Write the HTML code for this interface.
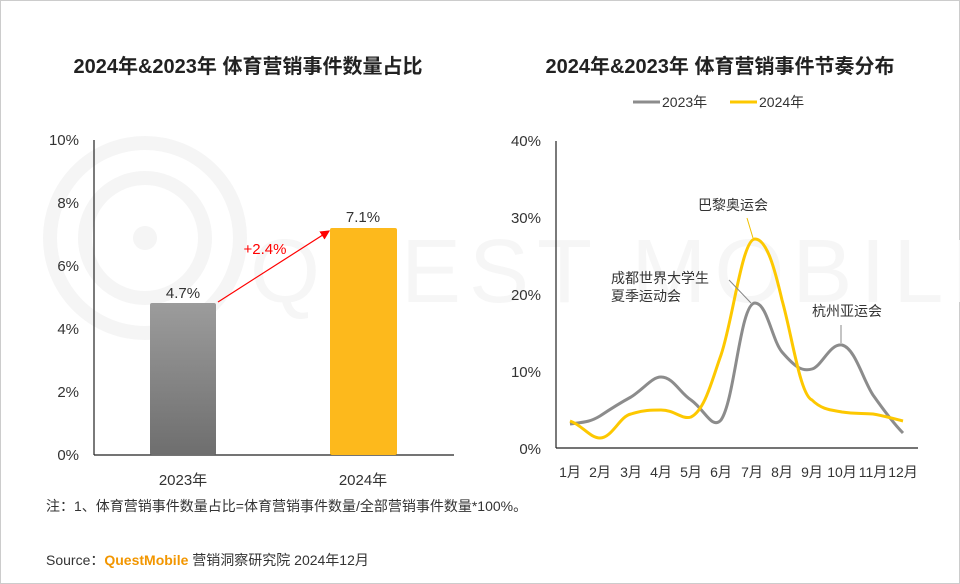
<!DOCTYPE html>
<html><head><meta charset="utf-8"><style>
body{margin:0;width:960px;height:584px;background:#fff;overflow:hidden;font-family:"Liberation Sans","Noto Sans CJK SC",sans-serif;}
.frame{position:absolute;left:0;top:0;width:958px;height:582px;border:1px solid #ccc;}
</style></head><body>
<div class="frame"></div>
<svg width="960" height="584" style="position:absolute;left:0;top:0" font-family="Liberation Sans, Noto Sans CJK SC, sans-serif">
<defs>
<linearGradient id="g" x1="0" y1="0" x2="0" y2="1"><stop offset="0" stop-color="#9c9c9c"/><stop offset="1" stop-color="#6e6e6e"/></linearGradient>
<marker id="ar" markerWidth="8" markerHeight="8" refX="7" refY="4" orient="auto"><path d="M0,0L8,4L0,8z" fill="#f00"/></marker>
</defs>
<g fill="none" stroke="#f5f5f5" stroke-width="14"><circle cx="145" cy="238" r="95"/><circle cx="145" cy="238" r="60"/></g>
<circle cx="145" cy="238" r="12" fill="#f5f5f5"/>
<text x="250" y="302" font-size="90" fill="#f6f6f6" letter-spacing="8">QUEST MOBILE</text>
<text x="248" y="73" font-size="20" fill="#222" text-anchor="middle" font-weight="bold">2024年&amp;2023年 体育营销事件数量占比</text>
<text x="720" y="73" font-size="20" fill="#222" text-anchor="middle" font-weight="bold">2024年&amp;2023年 体育营销事件节奏分布</text>
<g font-size="15" fill="#333" text-anchor="end">
<text x="79" y="145">10%</text><text x="79" y="208">8%</text><text x="79" y="271">6%</text><text x="79" y="334">4%</text><text x="79" y="397">2%</text><text x="79" y="460">0%</text></g>
<line x1="94" y1="140" x2="94" y2="455" stroke="#222" stroke-width="1.2"/>
<line x1="94" y1="455" x2="454" y2="455" stroke="#222" stroke-width="1.2"/>
<rect x="150" y="303" width="66" height="152" fill="url(#g)" rx="2"/>
<rect x="330" y="228" width="67" height="227" fill="#fdb91c" rx="2"/>
<g font-size="15" fill="#333" text-anchor="middle"><text x="183" y="298">4.7%</text><text x="363" y="222">7.1%</text>
<text x="183" y="485">2023年</text><text x="363" y="485">2024年</text></g>
<line x1="218" y1="302" x2="329" y2="231" stroke="#f00" stroke-width="1.2" marker-end="url(#ar)"/>
<text x="265" y="254" font-size="15" fill="#f00" text-anchor="middle">+2.4%</text>
<g font-size="15" fill="#333" text-anchor="end">
<text x="541" y="146">40%</text><text x="541" y="223">30%</text><text x="541" y="300">20%</text><text x="541" y="377">10%</text><text x="541" y="454">0%</text></g>
<line x1="556" y1="141" x2="556" y2="448" stroke="#222" stroke-width="1.2"/>
<line x1="556" y1="448" x2="918" y2="448" stroke="#222" stroke-width="1.2"/>
<g font-size="14" fill="#333" text-anchor="middle">
<text x="570" y="477">1月</text><text x="600" y="477">2月</text><text x="631" y="477">3月</text><text x="661" y="477">4月</text><text x="691" y="477">5月</text><text x="721" y="477">6月</text><text x="752" y="477">7月</text><text x="782" y="477">8月</text><text x="812" y="477">9月</text><text x="842" y="477">10月</text><text x="873" y="477">11月</text><text x="903" y="477">12月</text></g>
<path d="M570,424 C585,422 590,422 600,416 C612,408 620,403 631,397 C645,388 652,377 661,377 C673,377 680,393 691,400 C705,410 712,430 721,420 C735,400 740,303 755,303 C767,303 772,340 782,352 C795,367 802,372 812,369 C822,366 830,343 842,345 C855,348 863,380 873,395 C885,412 895,425 903,433" fill="none" stroke="#8c8c8c" stroke-width="3"/>
<path d="M570,421 C582,425 590,438 600,438 C612,438 620,416 631,414 C643,410 652,410 661,410 C675,410 682,420 691,417 C705,410 712,380 721,355 C733,320 742,239 755,239 C767,239 775,270 782,300 C792,335 800,395 812,400 C822,410 832,410 842,412 C855,414 863,413 873,414 C885,416 895,419 903,421" fill="none" stroke="#fdc800" stroke-width="3"/>
<line x1="747" y1="218" x2="753" y2="238" stroke="#f0c000" stroke-width="1"/>
<line x1="729" y1="280" x2="751" y2="303" stroke="#888" stroke-width="1"/>
<line x1="841" y1="325" x2="841" y2="343" stroke="#888" stroke-width="1"/>
<g font-size="14" fill="#333"><text x="698" y="210">巴黎奥运会</text><text x="611" y="283">成都世界大学生</text><text x="611" y="301">夏季运动会</text><text x="812" y="316">杭州亚运会</text></g>
<line x1="633" y1="102" x2="660" y2="102" stroke="#8c8c8c" stroke-width="3"/>
<text x="662" y="107" font-size="14" fill="#333">2023年</text>
<line x1="730" y1="102" x2="757" y2="102" stroke="#fdc800" stroke-width="3"/>
<text x="759" y="107" font-size="14" fill="#333">2024年</text>
<text x="46" y="511" font-size="14" fill="#333">注：1、体育营销事件数量占比=体育营销事件数量/全部营销事件数量*100%。</text>
<text x="46" y="565" font-size="14" fill="#333">Source：<tspan fill="#f29600" font-weight="bold">QuestMobile</tspan> 营销洞察研究院 2024年12月</text>
</svg>
</body></html>
